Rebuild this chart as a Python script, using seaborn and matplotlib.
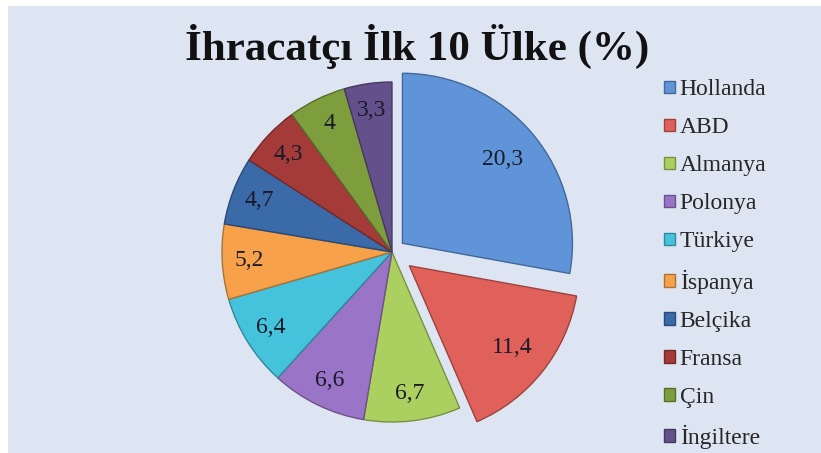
import matplotlib
matplotlib.use('Agg')

import numpy as np
import matplotlib.pyplot as plt
import matplotlib.colors as mcolors
from matplotlib.patches import Rectangle
import seaborn as sns

countries = ['Hollanda', 'ABD', 'Almanya', 'Polonya', 'Türkiye',
             'İspanya', 'Belçika', 'Fransa', 'Çin', 'İngiltere']
shares = [20.3, 11.4, 6.7, 6.6, 6.4, 5.2, 4.7, 4.3, 4.0, 3.3]
share_labels = ['20,3', '11,4', '6,7', '6,6', '6,4', '5,2', '4,7', '4,3', '4', '3,3']
explode = [0.08, 0.13, 0, 0, 0, 0, 0, 0, 0, 0]
colors = ['#5f95d8', '#e0605a', '#acd060', '#9a74c6', '#45c3dc',
          '#f7a14a', '#3a6aa8', '#a53b38', '#7e9e3e', '#64508a']

sns.set_style('white')
plt.rcParams['font.family'] = ['Liberation Serif', 'DejaVu Serif']

fig = plt.figure(figsize=(8.21, 4.53), dpi=100)
fig.patch.set_facecolor('white')
# light blue chart area (small white margin top/left)
fig.patches.append(Rectangle((8 / 821, 0), 1, 1 - 6 / 453, transform=fig.transFigure,
                             facecolor='#dde5f2', edgecolor='none', zorder=-1))

ax = fig.add_axes([(392 - 200) / 821, 1 / 453, 400 / 821, 400 / 453])
edge = [tuple(np.array(mcolors.to_rgb(c)) * 0.7) for c in colors]
wedges, texts = ax.pie(shares, explode=explode, colors=colors, startangle=90,
                       counterclock=False, radius=1,
                       wedgeprops=dict(linewidth=1.0))
for w, e in zip(wedges, edge):
    w.set_edgecolor(e)

# value labels
for i, w in enumerate(wedges):
    ang = np.deg2rad((w.theta1 + w.theta2) / 2)
    r = 0.77 if i < 2 else 0.84
    cx, cy = w.center
    ax.text(cx + r * np.cos(ang), cy + r * np.sin(ang), share_labels[i],
            ha='center', va='center', fontsize=17, color='#1a1a2a')

ax.set_xlim(-400 / 340, 400 / 340)
ax.set_ylim(-400 / 340, 400 / 340)
ax.set_aspect('equal')
ax.axis('off')

fig.text(0.508, 1 - 46 / 453, 'İhracatçı İlk 10 Ülke (%)', ha='center', va='center',
         fontsize=31, fontweight='bold', color='#111111')

fig.legend(wedges, countries, loc='upper left', bbox_to_anchor=(655 / 821, 1 - 70 / 453),
           frameon=False, fontsize=17, handlelength=0.45, handleheight=0.45,
           handletextpad=0.2, labelspacing=0.72, borderaxespad=0)

fig.savefig('out.png', dpi=100)
